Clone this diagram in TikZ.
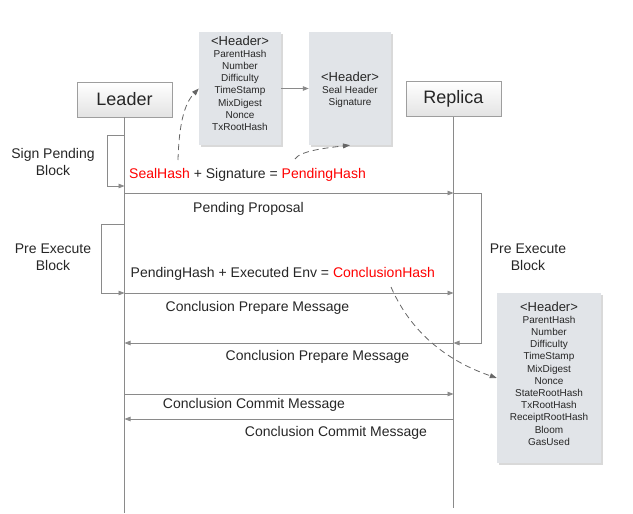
\documentclass[tikz,border=0pt]{standalone}
\usepackage{fontspec}
\setmainfont{Liberation Sans}
\usetikzlibrary{arrows.meta,shadows}
\definecolor{lineg}{HTML}{8A8A8A}
\definecolor{txt}{HTML}{262626}
\definecolor{hdrfill}{HTML}{E1E4E8}
\definecolor{redt}{HTML}{FF0000}
\begin{document}
\begin{tikzpicture}[x=1pt,y=-1pt,
  font=\fontsize{14}{17}\selectfont, text=txt,
  actor/.style={draw=black!38, top color=white, bottom color=black!11, minimum width=95pt, minimum height=35pt, inner sep=0, font=\fontsize{18}{20}\selectfont},
  hdrbox/.style={fill=hdrfill, draw=none, inner sep=0, drop shadow={shadow xshift=1.5pt, shadow yshift=-1.5pt, fill=black!25, opacity=0.6}},
  hdrtxt/.style={anchor=north, inner sep=0, align=center, font=\fontsize{10}{12.2}\selectfont},
  life/.style={draw=lineg, line width=0.8pt},
  msg/.style={draw=lineg, line width=0.8pt, -{Triangle[length=6pt,width=4.5pt]}, color=lineg},
  dashconn/.style={draw=black!60, line width=0.8pt, dash pattern=on 6pt off 4pt, -{Triangle[length=7pt,width=5pt]}, color=black!60},
  lbl/.style={inner sep=0, anchor=base},
  side/.style={inner sep=0, align=center}
]
\useasboundingbox (0,0) rectangle (633,514);

% actors
\node[actor] (leader) at (124.5,99.5) {Leader};
\node[actor] (replica) at (453.5,99) {Replica};
\coordinate (lend) at (124.5,513);
\coordinate (rend) at (453.5,508);
\draw[life] (leader.south) -- (lend);
\draw[life] (replica.south) -- (rend);

% header boxes
\node[hdrbox, minimum width=82pt, minimum height=113pt] (h1) at (240,88.5) {};
\node[hdrtxt] (h1t) at (240,35.5) {{\fontsize{13}{13}\selectfont <Header>}\\ParentHash\\Number\\Difficulty\\TimeStamp\\MixDigest\\Nonce\\TxRootHash};
\node[hdrbox, minimum width=82pt, minimum height=113pt] (h2) at (350,88.5) {};
\node[hdrtxt] (h2t) at (350,71.5) {{\fontsize{13}{13}\selectfont <Header>}\\Seal Header\\Signature};
\node[hdrbox, minimum width=104pt, minimum height=170pt] (h3) at (549,378) {};
\node[hdrtxt] (h3t) at (549,301.5) {{\fontsize{13}{13}\selectfont <Header>}\\ParentHash\\Number\\Difficulty\\TimeStamp\\MixDigest\\Nonce\\StateRootHash\\TxRootHash\\ReceiptRootHash\\Bloom\\GasUsed};
\draw[msg] (h1.east) -- (h2.west);

% lifeline coordinates
\coordinate (l1) at (124.5,135);
\coordinate (l1a) at (107,135);
\coordinate (l1b) at (107,186);
\coordinate (l2) at (124.5,186);
\coordinate (l3) at (124.5,193);
\coordinate (r3) at (453.5,193);
\coordinate (r3a) at (481,193);
\coordinate (r3b) at (481,343);
\coordinate (r4) at (453.5,343);
\coordinate (l4) at (124.5,343);
\coordinate (l5) at (124.5,224);
\coordinate (l5a) at (101,224);
\coordinate (l5b) at (101,293);
\coordinate (l6) at (124.5,293);
\coordinate (r6) at (453.5,293);
\coordinate (l7) at (124.5,394);
\coordinate (r7) at (453.5,394);
\coordinate (l8) at (124.5,419);
\coordinate (r8) at (453.5,419);

% self loops
\draw[msg] (l1) -- (l1a) -- (l1b) -- (l2);
\draw[msg] (l5) -- (l5a) -- (l5b) -- (l6);
\draw[msg] (r3) -- (r3a) -- (r3b) -- (r4);

% messages
\draw[msg] (l3) -- (r3);
\draw[msg] (l6) -- (r6);
\draw[msg] (r4) -- (l4);
\draw[msg] (l7) -- (r7);
\draw[msg] (r8) -- (l8);

% side labels
\node[side] (spb) at (53,161.5) {Sign Pending\\Block};
\node[side] (peb) at (53,257.5) {Pre Execute\\Block};
\node[side] (peb2) at (528,257.5) {Pre Execute\\Block};

% equations
\node[lbl, anchor=base west] (eq1) at (129,178) {\textcolor{redt}{SealHash} + Signature = \textcolor{redt}{PendingHash}};
\node[lbl, anchor=base west] (eq2) at (130.5,277) {PendingHash + Executed Env = \textcolor{redt}{ConclusionHash}};

% message labels
\node[lbl] (m1) at (248.5,212) {Pending Proposal};
\node[lbl] (m2) at (257.5,311) {Conclusion Prepare Message};
\node[lbl] (m3) at (317.5,360) {Conclusion Prepare Message};
\node[lbl] (m4) at (254,408) {Conclusion Commit Message};
\node[lbl] (m5) at (336,436) {Conclusion Commit Message};

% dashed connectors
\coordinate (sealhash) at (178,160);
\coordinate (pendhash) at (295,159);
\coordinate (conchash) at (391,287);
\draw[dashconn] (sealhash) .. controls (179,125) and (184,104) .. (h1.west);
\draw[dashconn] (pendhash) .. controls (300,151) and (325,148) .. (h2.south);
\draw[dashconn] (conchash) .. controls (412,335) and (450,362) .. (h3.west);
\end{tikzpicture}
\end{document}
